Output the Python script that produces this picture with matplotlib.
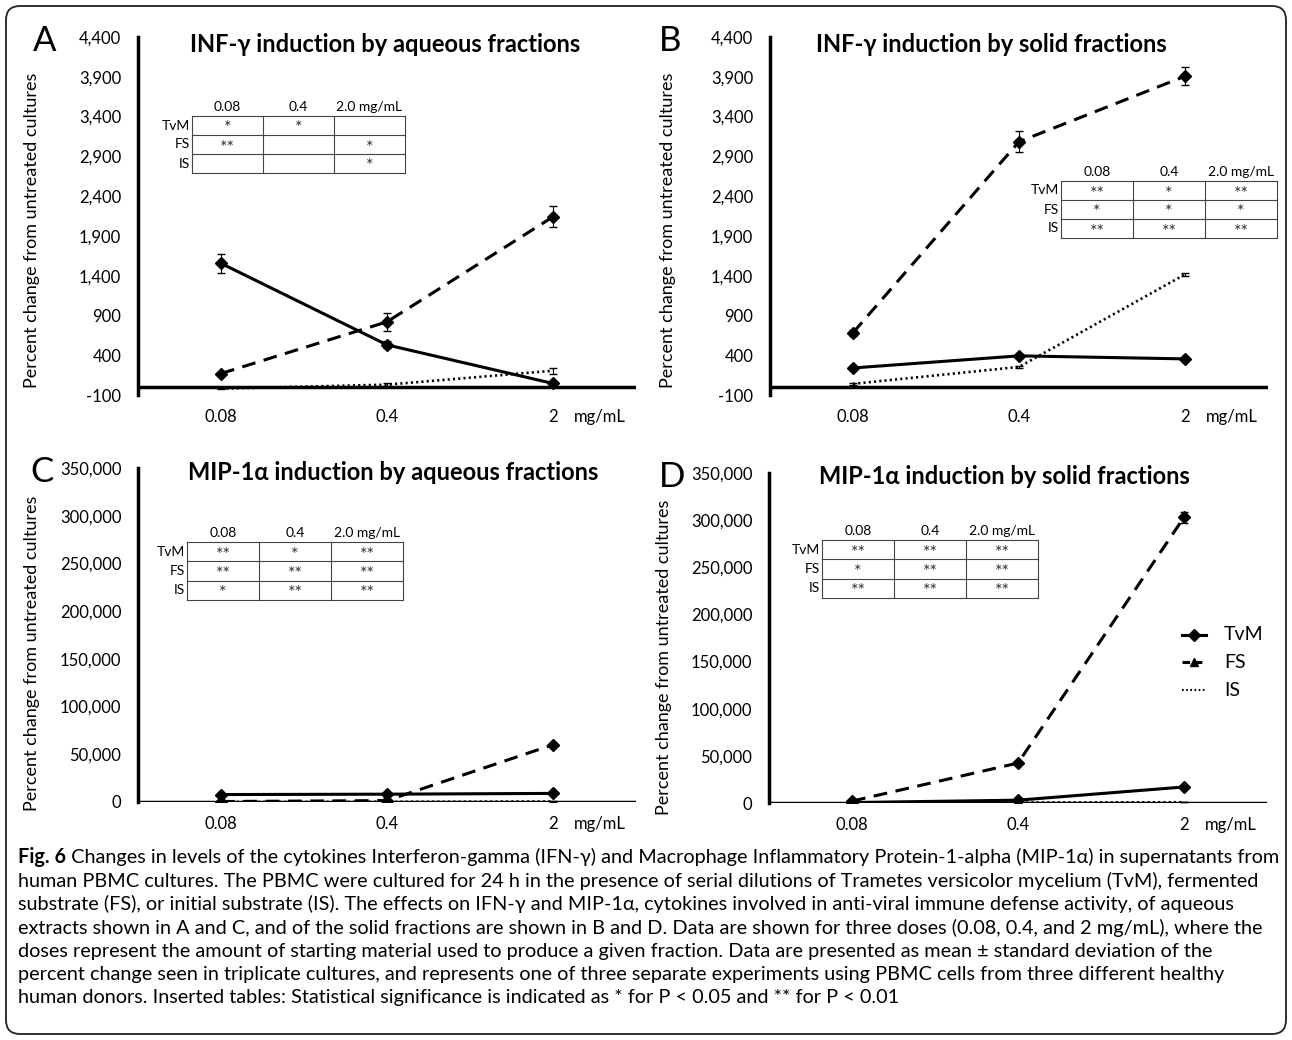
import matplotlib
matplotlib.use("Agg")
import matplotlib.pyplot as plt
from matplotlib.patches import FancyBboxPatch

plt.rcParams['font.family'] = ['Lato', 'DejaVu Sans']

W, H = 1292, 1040

doses = ["0.08", "0.4", "2"]
series = ["TvM", "FS", "IS"]

# A: INF-gamma, aqueous fractions
a_tvm = [1555, 530, 45]
a_tvm_err = [120, 45, 20]
a_fs = [170, 820, 2140]
a_fs_err = [15, 110, 130]
a_is = [-20, 30, 205]
a_is_err = [10, 15, 35]

# B: INF-gamma, solid fractions
b_tvm = [240, 392, 354]
b_tvm_err = [20, 25, 20]
b_fs = [683, 3084, 3907]
b_fs_err = [40, 130, 110]
b_is = [40, 253, 1416]
b_is_err = [10, 15, 20]

# C: MIP-1alpha, aqueous fractions
c_tvm = [7800, 8200, 9000]
c_tvm_err = [300, 300, 400]
c_fs = [500, 1500, 60000]
c_fs_err = [100, 200, 1500]
c_is = [0, 200, 500]
c_is_err = [50, 50, 100]

# D: MIP-1alpha, solid fractions
d_tvm = [500, 3000, 17000]
d_tvm_err = [100, 300, 800]
d_fs = [2000, 42400, 303000]
d_fs_err = [300, 1500, 6000]
d_is = [0, 500, 800]
d_is_err = [50, 50, 100]

# significance tables
tab_cols = ["0.08", "0.4", "2.0 mg/mL"]
sig_a = [["*", "*", ""], ["**", "", "*"], ["", "", "*"]]
sig_b = [["**", "*", "**"], ["*", "*", "*"], ["**", "**", "**"]]
sig_c = [["**", "*", "**"], ["**", "**", "**"], ["*", "**", "**"]]
sig_d = [["**", "**", "**"], ["*", "**", "**"], ["**", "**", "**"]]

caption = [
    "Changes in levels of the cytokines Interferon-gamma (IFN-γ) and Macrophage Inflammatory Protein-1-alpha (MIP-1α) in supernatants from",
    "human PBMC cultures. The PBMC were cultured for 24 h in the presence of serial dilutions of Trametes versicolor mycelium (TvM), fermented",
    "substrate (FS), or initial substrate (IS). The effects on IFN-γ and MIP-1α, cytokines involved in anti-viral immune defense activity, of aqueous",
    "extracts shown in A and C, and of the solid fractions are shown in B and D. Data are shown for three doses (0.08, 0.4, and 2 mg/mL), where the",
    "doses represent the amount of starting material used to produce a given fraction. Data are presented as mean ± standard deviation of the",
    "percent change seen in triplicate cultures, and represents one of three separate experiments using PBMC cells from three different healthy",
    "human donors. Inserted tables: Statistical significance is indicated as * for P < 0.05 and ** for P < 0.01",
]


def rect(l, t, r, b):
    return [l / W, 1 - b / H, (r - l) / W, (b - t) / H]


fig = plt.figure(figsize=(W / 100, H / 100), dpi=100)

DASH = (0, (4.5, 2.8))
DOT = (0, (0.8, 1.2))


def panel(pos, tvm, tvm_e, fs, fs_e, is_, is_e, ymin, ymax, step, ylab_x, ylab_y):
    ax = fig.add_axes(rect(*pos))
    x = range(len(doses))
    ax.plot(x, is_, color='black', lw=1.9, ls=DOT)
    ax.errorbar(x, is_, yerr=is_e, fmt='none', ecolor='black', elinewidth=0.8, capsize=3)
    ax.plot(x, fs, color='black', lw=2.2, ls=DASH, marker='D', ms=6)
    ax.errorbar(x, fs, yerr=fs_e, fmt='none', ecolor='black', elinewidth=0.8, capsize=3)
    ax.plot(x, tvm, color='black', lw=2.2, marker='D', ms=6)
    ax.errorbar(x, tvm, yerr=tvm_e, fmt='none', ecolor='black', elinewidth=0.8, capsize=3)
    ax.axhline(0, color='black', lw=2.5, zorder=1)
    ax.set_xlim(-0.5, 2.5)
    ax.set_ylim(ymin, ymax)
    ticks = list(range(ymin, ymax + 1, step))
    ax.set_yticks(ticks)
    ax.set_yticklabels([f"{t:,}" for t in ticks])
    ax.set_xticks(list(x))
    ax.set_xticklabels(doses)
    ax.tick_params(axis='y', length=0, pad=12, labelsize=12)
    ax.tick_params(axis='x', length=0, pad=10, labelsize=12)
    for s in ['top', 'right', 'bottom']:
        ax.spines[s].set_visible(False)
    ax.spines['left'].set_linewidth(2.5)
    ax.set_ylabel("Percent change from untreated cultures", fontsize=13)
    ax.yaxis.set_label_coords(ylab_x, ylab_y)
    ax.annotate("mg/mL", xy=(2.28, 0), xycoords=('data', 'axes fraction'),
                xytext=(0, -10), textcoords='offset points', ha='center', va='top', fontsize=12)
    ax.patch.set_alpha(0)
    return ax


panel((138, 37, 636, 395), a_tvm, a_tvm_err, a_fs, a_fs_err, a_is, a_is_err, -100, 4400, 500, -0.197, 0.46)
panel((770, 37, 1268, 395), b_tvm, b_tvm_err, b_fs, b_fs_err, b_is, b_is_err, -100, 4400, 500, -0.189, 0.46)
panel((138, 468, 636, 802), c_tvm, c_tvm_err, c_fs, c_fs_err, c_is, c_is_err, 0, 350000, 50000, -0.197, 0.445)
panel((769, 473, 1267, 803), d_tvm, d_tvm_err, d_fs, d_fs_err, d_is, d_is_err, 0, 350000, 50000, -0.195, 0.44)

# overlay in pixel coordinates for titles, tables, legend and caption
ov = fig.add_axes([0, 0, 1, 1])
ov.set_xlim(0, W)
ov.set_ylim(H, 0)
ov.axis('off')
ov.patch.set_alpha(0)

ov.add_patch(FancyBboxPatch((6, 6), 1280, 1028, boxstyle="round,pad=0,rounding_size=14",
                            fc='none', ec='#222222', lw=1.3))

for lab, px, py in [("A", 45, 41), ("B", 670, 41), ("C", 42, 472), ("D", 672, 477)]:
    ov.text(px, py, lab, fontsize=25, ha='center', va='center')

titles = [("INF-γ induction by aqueous fractions", 385, 44),
          ("INF-γ induction by solid fractions", 991, 44),
          ("MIP-1α induction by aqueous fractions", 393, 472),
          ("MIP-1α induction by solid fractions", 1004, 477)]
for t, px, py in titles:
    ov.text(px, py, t, fontsize=17, fontweight='bold', ha='center', va='center')


def table(left, top, cw, rh, sig):
    right = left + 3 * cw
    bottom = top + 3 * rh
    for i in range(4):
        ov.plot([left, right], [top + i * rh, top + i * rh], color='#444444', lw=0.8)
        ov.plot([left + i * cw, left + i * cw], [top, bottom], color='#444444', lw=0.8)
    for j, c in enumerate(tab_cols):
        ov.text(left + (j + 0.5) * cw, top - 9, c, fontsize=10, ha='center', va='center')
    for i, r in enumerate(series):
        ov.text(left - 2, top + (i + 0.5) * rh, r, fontsize=10, ha='right', va='center')
        for j in range(3):
            ov.text(left + (j + 0.5) * cw, top + (i + 0.5) * rh + 3, sig[i][j],
                    fontsize=13, ha='center', va='center', color='#333333')


table(192, 116, 71, 19, sig_a)
table(1061, 181, 72, 19, sig_b)
table(187, 542, 72, 19.3, sig_c)
table(822, 540, 72, 19.3, sig_d)

# legend
ov.plot([1182, 1206], [635, 635], color='black', lw=2.2)
ov.plot([1194], [635], marker='D', color='black', ms=6)
ov.plot([1182, 1206], [662, 662], color='black', lw=2.2, ls=(0, (2.5, 1.5)))
ov.plot([1194], [662], marker='^', color='black', ms=6)
ov.plot([1182, 1206], [690, 690], color='black', lw=1.5, ls=DOT)
for lab, py in zip(series, [635, 662, 690]):
    ov.text(1224, py, lab, fontsize=14, va='center')

# caption: fit the first line to the panel width
renderer = fig.canvas.get_renderer()
cap_fam = ['Liberation Sans Narrow', 'Lato', 'DejaVu Sans']
fig_t = ov.text(18, 857, "Fig. 6", fontsize=12, fontweight='bold', family=cap_fam, va='center')
rest = ov.text(0, 857, " " + caption[0], fontsize=12, family=cap_fam, va='center')
w1 = fig_t.get_window_extent(renderer).width + rest.get_window_extent(renderer).width
fs = 12 * 1258 / w1
fig_t.set_fontsize(fs)
rest.set_fontsize(fs)
rest.set_x(18 + fig_t.get_window_extent(renderer).width)
for k, line in enumerate(caption[1:], start=1):
    ov.text(18, 857 + k * 23.5, line, fontsize=fs, family=cap_fam, va='center')

fig.savefig("out.png", dpi=100)
